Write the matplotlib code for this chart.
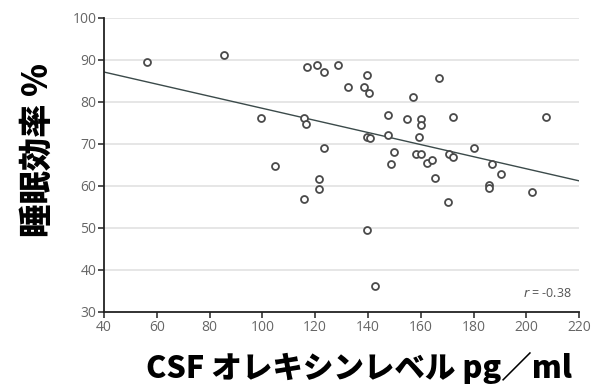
import matplotlib
matplotlib.use("Agg")
import matplotlib.pyplot as plt

# CSF orexin level (pg/ml) and sleep efficiency (%) per subject
orexin = [56.3, 85.5, 99.5, 104.8, 116.8, 120.6, 123.2, 128.6, 132.3, 139.7,
          138.4, 140.3, 157.1, 166.9, 115.8, 116.7, 123.2, 147.6, 154.9, 160.2,
          160.2, 172.1, 207.6, 139.8, 140.8, 147.6, 159.4, 150.0, 158.1, 160.1,
          148.6, 162.3, 164.1, 165.4, 170.6, 172.1, 180.1, 187.0, 190.3, 186.0,
          186.0, 202.3, 121.6, 121.3, 115.8, 139.7, 142.7, 170.4]
efficiency = [89.5, 91.2, 76.2, 64.8, 88.4, 88.7, 87.0, 88.7, 83.6, 86.4,
              83.6, 82.0, 81.2, 85.6, 76.2, 74.7, 69.0, 76.9, 76.0, 75.9,
              74.5, 76.5, 76.4, 71.7, 71.5, 72.1, 71.6, 68.1, 67.5, 67.6,
              65.1, 65.4, 66.1, 61.8, 67.6, 66.8, 69.0, 65.3, 62.9, 60.1,
              59.6, 58.6, 61.7, 59.3, 57.0, 49.6, 36.2, 56.1]

# regression line end points
fit_x = [40, 220]
fit_y = [87.1, 61.2]
r_value = -0.38

x_ticks = list(range(40, 221, 20))
y_ticks = list(range(30, 101, 10))

jp_font = ["Noto Sans CJK JP", "DejaVu Sans"]
tick_font = ["Open Sans", "DejaVu Sans"]


def main():
    fig = plt.figure(figsize=(5.91, 3.88), dpi=100)
    ax = fig.add_axes([0.176, 0.196, 0.804, 0.758])

    ax.set_xlim(40, 220)
    ax.set_ylim(30, 100)
    ax.set_xticks(x_ticks)
    ax.set_yticks(y_ticks)

    for y in y_ticks[1:]:
        ax.axhline(y, color="#e2e2e2", lw=1.2, zorder=0)

    ax.plot(fit_x, fit_y, color="#3b4a4a", lw=1.0, zorder=2)
    ax.plot(orexin, efficiency, linestyle="none", marker="o", markersize=5,
            markerfacecolor="white", markeredgecolor="#4a4a4a",
            markeredgewidth=1.3, zorder=3)

    for side in ["top", "right"]:
        ax.spines[side].set_visible(False)
    for side in ["left", "bottom"]:
        ax.spines[side].set_color("#222222")
        ax.spines[side].set_linewidth(1.3)

    ax.tick_params(direction="out", length=4, width=1.1, color="#222222",
                   labelcolor="#666666", pad=1.5)
    for lab in ax.get_xticklabels() + ax.get_yticklabels():
        lab.set_family(tick_font)
        lab.set_fontsize(10)

    ax.text(0.985, 0.04, f"$r$ = {r_value:.2f}",
            transform=ax.transAxes, ha="right", va="bottom",
            fontsize=9, color="#555555", family=tick_font)

    ax.set_xlabel("CSF オレキシンレベル pg／ml", family=jp_font,
                  fontsize=22, fontweight="heavy")
    ax.xaxis.set_label_coords(0.537, -0.19)
    ax.xaxis.label.set_va("center")

    ax.set_ylabel("睡眠効率 %", family=jp_font, fontsize=24,
                  fontweight="heavy")
    ax.yaxis.set_label_coords(-0.141, 0.551)
    ax.yaxis.label.set_va("center")

    fig.savefig("out.png", dpi=100)


if __name__ == "__main__":
    main()
